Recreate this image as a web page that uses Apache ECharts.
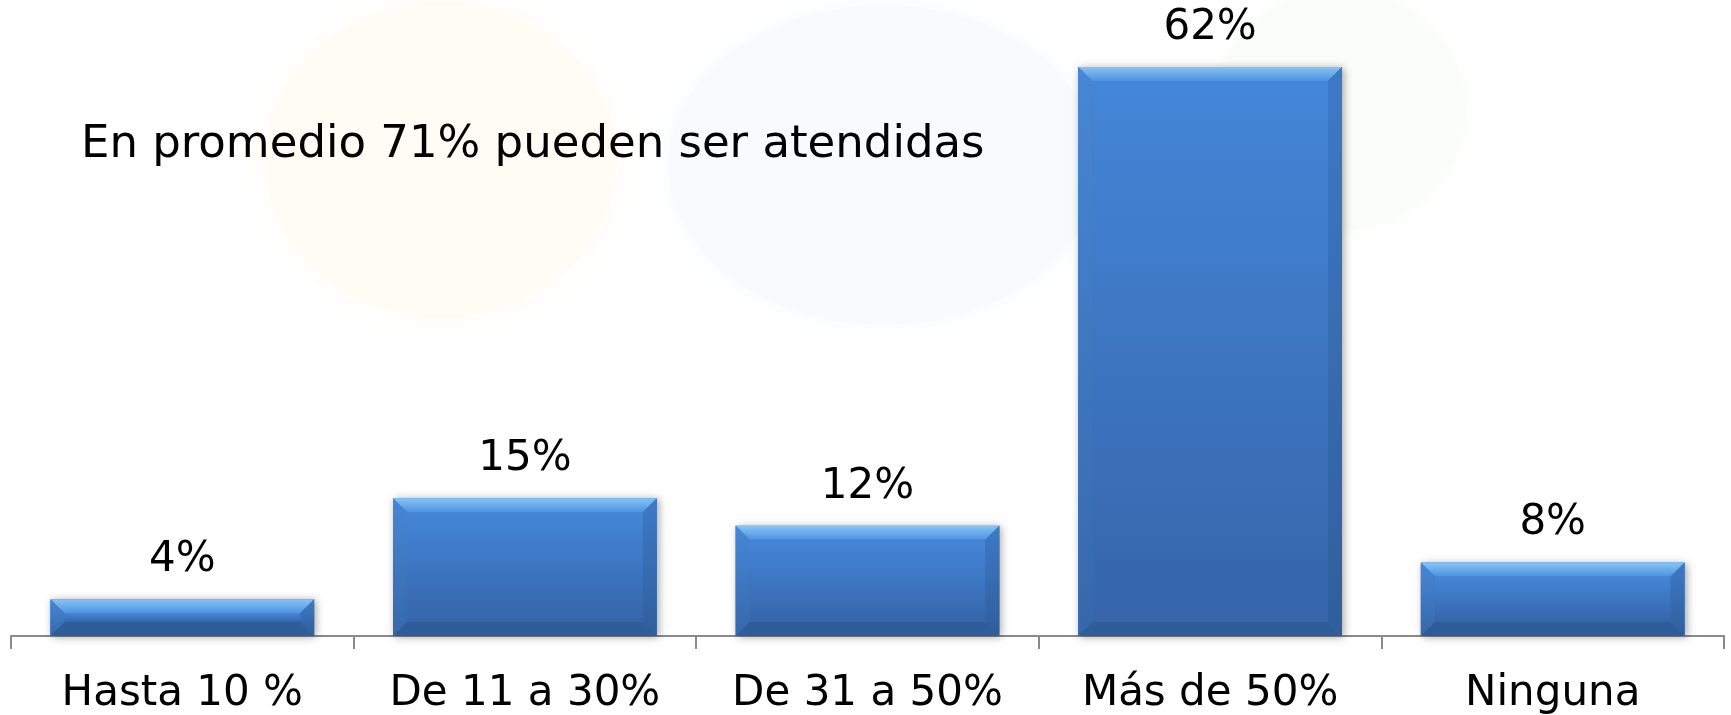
<!DOCTYPE html>
<html>
<head>
<meta charset="utf-8">
<script src="https://cdn.jsdelivr.net/npm/echarts@6/dist/echarts.min.js"></script>
<style>
    html, body { margin: 0; padding: 0; background: #ffffff; }
    #chart { width: 1731px; height: 715px; }
</style>
</head>
<body>
<div id="chart"></div>
<script>
"use strict";
var categories = ["Hasta 10 %", "De 11 a 30%", "De 31 a 50%", "Más de 50%", "Ninguna"];
var values = [4, 15, 12, 62, 8];
var valueLabels = ["4%", "15%", "12%", "62%", "8%"];
var note = "En promedio 71% pueden ser atendidas";

var FONT = "DejaVu Sans";

/**
 * bevelled bar, drawn from the axis scales
 */
function renderBar(params, api) {
    var idx = api.value(0);
    var top = api.coord([idx, api.value(1)]);
    var base = api.coord([idx, 0]);
    var bw = api.size([1, 0])[0] * 0.77;
    var x0 = top[0] - bw / 2, x1 = top[0] + bw / 2;
    var y0 = top[1], y1 = base[1];
    var b = Math.min(14, (y1 - y0) / 2.4);
    var lg = function (stops) {
        return new echarts.graphic.LinearGradient(0, 0, 0, 1, stops);
    };
    return {
        type: "group",
        children: [
            { type: "rect", shape: { x: x0, y: y0, width: bw, height: y1 - y0 },
              style: { fill: "#3a72bd", shadowBlur: 8, shadowColor: "rgba(0,0,0,0.35)", shadowOffsetX: 2, shadowOffsetY: 1 } },
            // face
            { type: "rect", shape: { x: x0 + b, y: y0 + b, width: bw - 2 * b, height: y1 - y0 - 2 * b },
              style: { fill: lg([{ offset: 0, color: "#4486d8" }, { offset: 1, color: "#3665aa" }]) } },
            // top bevel
            { type: "polygon", shape: { points: [[x0, y0], [x1, y0], [x1 - b, y0 + b], [x0 + b, y0 + b]] },
              style: { fill: lg([{ offset: 0, color: "#86c4f6" }, { offset: 1, color: "#4e92e0" }]) } },
            // left bevel
            { type: "polygon", shape: { points: [[x0, y0], [x0 + b, y0 + b], [x0 + b, y1 - b], [x0, y1]] },
              style: { fill: lg([{ offset: 0, color: "#4787d6" }, { offset: 1, color: "#3668aa" }]) } },
            // right bevel
            { type: "polygon", shape: { points: [[x1, y0], [x1 - b, y0 + b], [x1 - b, y1 - b], [x1, y1]] },
              style: { fill: lg([{ offset: 0, color: "#3d7ac6" }, { offset: 1, color: "#305e9c" }]) } },
            // bottom bevel
            { type: "polygon", shape: { points: [[x0, y1], [x1, y1], [x1 - b, y1 - b], [x0 + b, y1 - b]] },
              style: { fill: "#2f5c9a" } },
            { type: "text",
              style: { x: top[0], y: y0 - 39, text: valueLabels[idx], fill: "#000000",
                       font: "42px '" + FONT + "'", textAlign: "center", textVerticalAlign: "middle" } }
        ]
    };
}

var chart = echarts.init(document.getElementById("chart"));
chart.setOption({
    animation: false,
    backgroundColor: "#ffffff",
    grid: { left: 11, right: 7, top: 67, bottom: 78 },
    xAxis: {
        type: "category",
        data: categories,
        axisLine: { lineStyle: { color: "#8a8a8a", width: 2 } },
        axisTick: { show: true, interval: 0, length: 13, lineStyle: { color: "#8a8a8a", width: 2 } },
        axisLabel: { interval: 0, color: "#000000", fontFamily: FONT, fontSize: 42, margin: 37 }
    },
    yAxis: { type: "value", min: 0, max: 62, show: false, splitLine: { show: false } },
    graphic: [
        // faint watermark behind the chart
        { type: "ellipse", z: -10, shape: { cx: 441, cy: 160, rx: 176, ry: 158 },
          style: { fill: "#fffcf6", shadowBlur: 30, shadowColor: "#fffcf6" } },
        { type: "ellipse", z: -10, shape: { cx: 883, cy: 165, rx: 215, ry: 160 },
          style: { fill: "#f8fafc", shadowBlur: 30, shadowColor: "#f8fafc" } },
        { type: "ellipse", z: -10, shape: { cx: 1340, cy: 110, rx: 125, ry: 120 },
          style: { fill: "#fafdf9", shadowBlur: 30, shadowColor: "#fafdf9" } },
        { type: "text", left: 81, top: 123,
          style: { text: note, fill: "#000000", font: "45px '" + FONT + "'" } }
    ],
    series: [{
        type: "custom",
        renderItem: renderBar,
        data: values.map(function (v, i) { return [i, v]; })
    }]
});
</script>
</body>
</html>
